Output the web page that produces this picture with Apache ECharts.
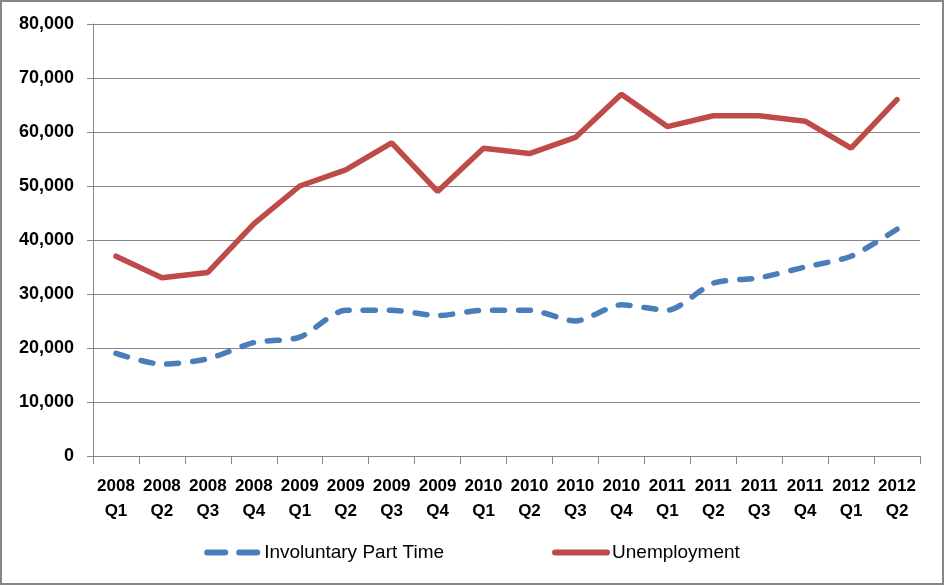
<!DOCTYPE html>
<html>
<head>
<meta charset="utf-8">
<script src="https://cdn.jsdelivr.net/npm/echarts@6/dist/echarts.min.js"></script>
<style>
  html, body { margin: 0; padding: 0; background: #fff; }
  #chart { width: 944px; height: 585px; }
</style>
</head>
<body>
<div id="chart"></div>
<script>
// quarters
let categories = ['2008\nQ1', '2008\nQ2', '2008\nQ3', '2008\nQ4', '2009\nQ1', '2009\nQ2', '2009\nQ3', '2009\nQ4',
    '2010\nQ1', '2010\nQ2', '2010\nQ3', '2010\nQ4', '2011\nQ1', '2011\nQ2', '2011\nQ3', '2011\nQ4', '2012\nQ1', '2012\nQ2'];
let partTime = [19000, 17000, 18000, 21000, 22000, 27000, 27000, 26000, 27000, 27000, 25000, 28000, 27000, 32000, 33000, 35000, 37000, 42000];
let unemployment = [37000, 33000, 34000, 43000, 50000, 53000, 58000, 49000, 57000, 56000, 59000, 67000, 61000, 63000, 63000, 62000, 57000, 66000];

let axisColor = '#868686';
let fontFamily = '"Liberation Sans Narrow", "Liberation Sans", Arial, sans-serif';

let formatNumber = function(num) {
    let reg = /(?=(\B)(\d{3})+$)/g;
    return num.toString().replace(reg, ',');
}

var chart = echarts.init(document.getElementById('chart'));

option = {
    backgroundColor: '#fff',
    animation: false,
    graphic: [{
        type: 'rect',
        shape: { x: 1, y: 1, width: 942, height: 583 },
        style: { fill: 'none', stroke: axisColor, lineWidth: 2 },
        silent: true
    }],
    grid: {
        left: 93,
        right: 24,
        top: 24,
        bottom: 129
    },
    legend: {
        bottom: 18,
        left: 'center',
        itemWidth: 52,
        itemHeight: 12,
        itemGap: 108,
        itemStyle: { opacity: 0 },
        textStyle: {
            fontFamily: fontFamily,
            fontSize: 19,
            color: '#000'
        },
        data: [{
            name: 'Involuntary Part Time',
            lineStyle: { width: 6, type: [18, 14], cap: 'round' }
        }, {
            name: 'Unemployment',
            lineStyle: { width: 6 }
        }]
    },
    xAxis: {
        type: 'category',
        data: categories,
        boundaryGap: true,
        axisLine: { lineStyle: { color: axisColor, width: 1 } },
        axisTick: { show: true, length: 8, lineStyle: { color: axisColor } },
        axisLabel: {
            interval: 0,
            margin: 18,
            fontFamily: fontFamily,
            fontSize: 17,
            fontWeight: 'bold',
            color: '#000',
            lineHeight: 25
        }
    },
    yAxis: {
        type: 'value',
        min: 0,
        max: 80000,
        interval: 10000,
        axisLine: { show: true, lineStyle: { color: axisColor, width: 1 } },
        axisTick: { show: true, length: 6, lineStyle: { color: axisColor } },
        splitLine: { lineStyle: { color: axisColor, width: 1 } },
        axisLabel: {
            margin: 19,
            fontFamily: fontFamily,
            fontSize: 18,
            fontWeight: 'bold',
            color: '#000',
            formatter: v => formatNumber(v)
        }
    },
    series: [{
        name: 'Involuntary Part Time',
        type: 'line',
        data: partTime,
        symbol: 'none',
        smooth: 0.25,
        color: '#4A7EBB',
        lineStyle: {
            color: '#4A7EBB',
            width: 5.5,
            type: [12, 14],
            cap: 'round'
        }
    }, {
        name: 'Unemployment',
        type: 'line',
        data: unemployment,
        symbol: 'none',
        color: '#BE4B48',
        lineStyle: {
            color: '#BE4B48',
            width: 5.5,
            cap: 'round'
        }
    }]
};
chart.setOption(option);
</script>
</body>
</html>
